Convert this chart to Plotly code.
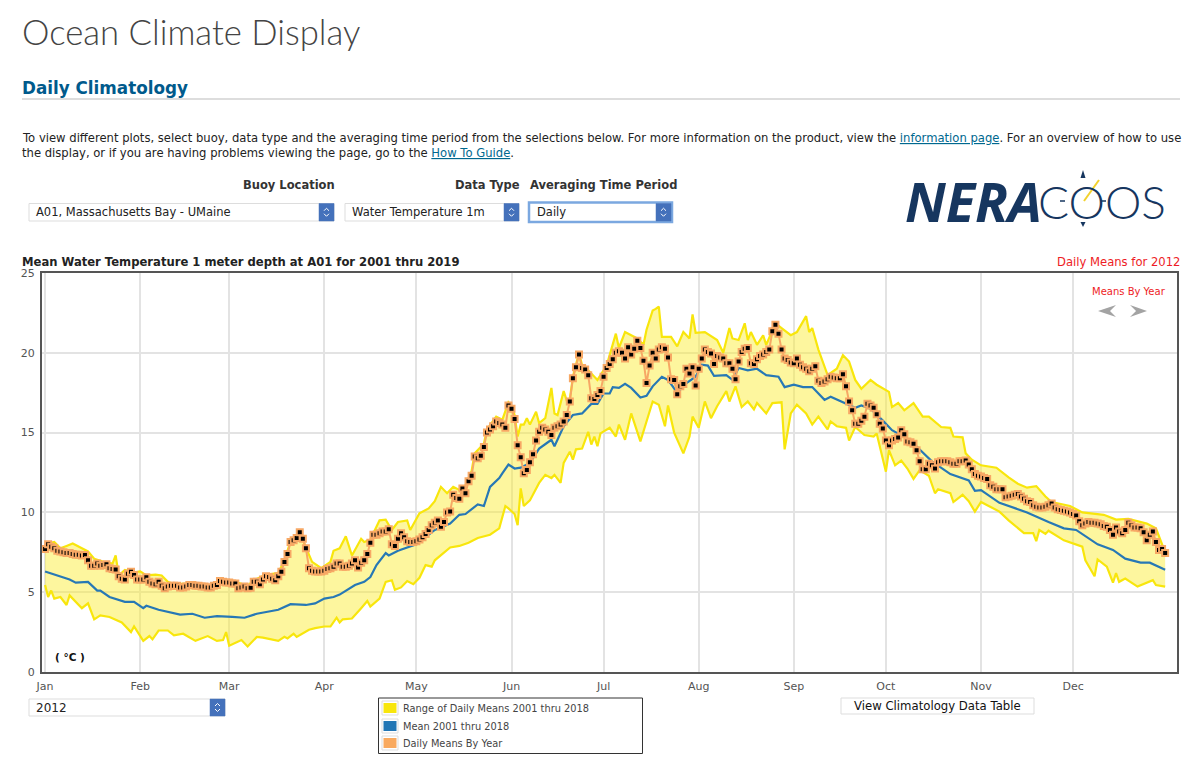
import plotly.graph_objects as go

W = 1200
H = 768

month_labels = ['Jan', 'Feb', 'Mar', 'Apr', 'May', 'Jun', 'Jul', 'Aug', 'Sep', 'Oct', 'Nov', 'Dec']
month_days = [0, 31, 60, 91, 121, 152, 182, 213, 244, 274, 305, 335]
temp_ticks = [0, 5, 10, 15, 20, 25]

# Daily means for 2012, one value per day of the year
year_2012 = [
    7.7, 8.0, 7.85, 7.75, 7.6, 7.55, 7.5, 7.45, 7.45, 7.4,
    7.35, 7.35, 7.3, 7.33, 7.0, 6.66, 6.65, 6.8, 6.65, 6.7,
    6.75, 6.5, 6.45, 6.43, 6.0, 5.85, 5.8, 6.15, 6.28, 6.07,
    5.8, 5.8, 5.8, 5.93, 5.65, 5.55, 5.5, 5.65, 5.4, 5.25,
    5.35, 5.4, 5.4, 5.4, 5.3, 5.3, 5.35, 5.45, 5.45, 5.4,
    5.4, 5.35, 5.35, 5.3, 5.3, 5.4, 5.45, 5.7, 5.65, 5.6,
    5.6, 5.55, 5.55, 5.25, 5.3, 5.35, 5.25, 5.28, 5.65, 5.65,
    5.5, 5.8, 6.0, 5.95, 5.85, 5.75, 6.0, 6.28, 6.9, 7.4,
    8.15, 8.25, 8.4, 8.75, 8.35, 7.75, 6.5, 6.35, 6.3, 6.3,
    6.3, 6.35, 6.45, 6.5, 6.6, 6.8, 6.8, 6.6, 6.6, 6.65,
    6.8, 7.0, 6.55, 6.85, 7.0, 7.4, 8.1, 8.6, 8.6, 8.7,
    8.8, 8.8, 8.95, 8.0, 7.9, 8.35, 8.7, 8.45, 8.2, 8.15,
    8.15, 8.2, 8.3, 8.45, 8.65, 8.9, 9.2, 9.35, 9.5, 9.1,
    9.4, 10.0, 10.05, 11.1, 10.9, 10.85, 11.5, 11.2, 11.95, 12.3,
    13.5, 13.4, 13.55, 14.1, 15.0, 15.2, 15.4, 15.7, 15.6, 15.5,
    15.3, 16.7, 16.5, 15.85, 14.2, 13.45, 12.45, 12.65, 13.15, 13.65,
    14.5, 15.05, 15.3, 15.2, 15.05, 14.85, 15.3, 15.4, 15.5, 15.7,
    16.1, 16.95, 18.4, 19.1, 19.9, 19.05, 18.95, 18.6, 17.15, 17.1,
    17.35, 17.6, 18.5, 19.05, 19.3, 19.6, 20.0, 20.1, 20.0, 19.65,
    20.35, 19.9, 20.25, 20.75, 20.3, 19.5, 18.1, 19.2, 20.0, 19.65,
    20.2, 20.35, 20.25, 19.7, 18.35, 18.3, 17.4, 17.9, 18.05, 19.0,
    18.7, 19.1, 17.95, 19.0, 19.65, 20.2, 20.05, 19.95, 19.3, 19.8,
    19.7, 19.65, 19.35, 19.35, 19.0, 18.35, 19.45, 20.05, 20.25, 20.3,
    19.35, 19.3, 19.6, 19.8, 19.9, 20.05, 20.2, 21.35, 21.75, 21.2,
    20.2, 19.65, 19.55, 19.4, 19.35, 19.65, 19.25, 19.1, 19.0, 18.85,
    19.0, 19.15, 18.25, 18.1, 18.2, 18.35, 18.5, 18.45, 18.4, 18.4,
    18.65, 17.9, 16.95, 16.4, 15.55, 15.55, 15.75, 16.0, 16.8, 16.7,
    16.55, 16.15, 15.55, 15.25, 14.5, 14.2, 14.5, 14.6, 14.7, 15.15,
    14.9, 14.45, 14.4, 14.3, 13.9, 13.2, 12.7, 12.7, 13.05, 12.95,
    12.75, 13.15, 13.2, 13.2, 13.2, 13.15, 13.05, 13.05, 13.2, 13.2,
    13.25, 13.0, 12.7, 12.4, 12.3, 12.25, 12.15, 12.1, 11.7, 11.6,
    11.45, 11.45, 11.45, 10.95, 11.0, 11.05, 11.1, 11.15, 11.0, 10.85,
    10.7, 10.65, 10.45, 10.35, 10.3, 10.3, 10.35, 10.45, 10.55, 10.3,
    10.2, 10.15, 10.1, 10.05, 10.0, 9.9, 9.8, 9.45, 9.2, 9.3,
    9.4, 9.35, 9.35, 9.3, 9.25, 9.15, 9.1, 8.9, 8.6, 9.05,
    8.8, 8.7, 8.9, 9.35, 9.2, 9.05, 9.05, 9.0, 8.75, 8.25,
    8.6, 8.8, 8.15, 7.65, 7.7, 7.45,
]

# Range of daily means, read at the corners of the yellow outline
upper_days = [
    0, 1, 3, 5, 7, 9, 12, 14, 16, 19, 22, 23, 24, 26, 29, 31, 33, 36, 38, 40,
    42, 48, 54, 57, 62, 66, 68, 72, 76, 78, 80, 83, 85, 87, 90, 93, 94, 96, 98, 100,
    103, 104, 106, 109, 111, 113, 115, 118, 119, 122, 125, 127, 129, 131, 133, 135, 137, 139, 140, 143,
    144, 147, 149, 151, 152, 153, 154, 155, 156, 157, 158, 160, 161, 163, 165, 166, 167, 169, 170, 171,
    172, 173, 174, 175, 176, 178, 180, 183, 186, 187, 189, 193, 195, 196, 198, 199, 200, 201, 204, 206,
    208, 210, 211, 212, 215, 219, 221, 223, 224, 226, 228, 229, 230, 232, 234, 235, 238, 240, 243, 245,
    248, 249, 250, 252, 255, 258, 260, 262, 264, 266, 269, 271, 275, 276, 278, 280, 283, 286, 288, 292,
    295, 296, 299, 300, 302, 305, 310, 314, 317, 320, 323, 326, 328, 334, 338, 345, 349, 353, 358, 359,
    362, 364, 365,
]
upper_vals = [
    7.8, 8.05, 8.15, 7.75, 7.9, 8.05, 7.75, 7.55, 7.1, 6.9, 6.8, 7.3, 6.05, 6.4, 6.25, 6.3, 6.05, 6.1, 6.05, 5.65,
    5.5, 5.55, 5.4, 5.75, 5.65, 5.4, 5.75, 6.1, 6.2, 7.0, 8.2, 8.8, 7.8, 6.9, 6.5, 6.9, 7.6, 7.75, 8.5, 7.3,
    8.35, 8.15, 8.3, 9.5, 9.55, 8.9, 9.4, 9.5, 8.9, 9.95, 10.25, 10.7, 11.6, 11.2, 11.6, 11.4, 11.7, 12.6, 13.7, 14.3,
    15.2, 16.0, 15.8, 16.9, 16.7, 16.1, 14.75, 15.5, 15.5, 15.9, 15.5, 16.3, 15.6, 15.9, 17.8, 16.2, 16.1, 17.6, 17.0, 17.1,
    18.5, 19.2, 20.0, 19.2, 19.1, 18.7, 18.3, 19.2, 21.2, 20.3, 21.3, 20.9, 20.5, 21.45, 22.65, 22.75, 22.9, 21.0, 21.0, 20.4,
    21.3, 20.9, 22.4, 21.25, 21.3, 20.8, 20.0, 21.55, 20.9, 20.8, 21.85, 20.8, 21.3, 20.5, 21.1, 20.5, 21.85, 21.55, 21.1, 21.3,
    22.3, 21.3, 21.55, 20.2, 18.6, 19.0, 19.85, 19.45, 18.3, 17.75, 18.3, 18.0, 17.55, 16.6, 16.85, 16.4, 16.85, 16.0, 16.0, 15.35,
    15.3, 14.75, 14.7, 13.7, 13.3, 12.95, 12.8, 12.2, 11.8, 11.55, 11.65, 11.0, 10.65, 10.4, 10.0, 9.85, 9.55, 9.6, 9.35, 9.3,
    9.0, 8.05, 7.5,
]
lower_days = [
    0, 1, 2, 3, 5, 7, 8, 10, 12, 14, 16, 18, 21, 25, 28, 29, 32, 34, 35, 37,
    40, 42, 45, 49, 53, 56, 58, 59, 60, 64, 66, 69, 71, 76, 78, 79, 81, 82, 85, 86,
    88, 91, 93, 95, 96, 97, 100, 101, 103, 105, 106, 109, 111, 113, 114, 116, 118, 120, 122, 124,
    126, 127, 129, 132, 135, 138, 141, 145, 148, 150, 151, 153, 154, 155, 156, 158, 161, 163, 165, 166,
    168, 169, 171, 172, 173, 175, 177, 178, 179, 180, 181, 184, 186, 187, 189, 191, 194, 198, 200, 202,
    203, 205, 208, 210, 211, 213, 215, 217, 219, 222, 223, 225, 227, 229, 231, 232, 235, 237, 240, 241,
    243, 245, 248, 250, 252, 255, 256, 258, 261, 262, 264, 267, 270, 271, 274, 275, 277, 279, 281, 283,
    285, 288, 290, 291, 295, 296, 299, 301, 303, 305, 311, 314, 319, 322, 323, 324, 326, 327, 332, 338,
    339, 342, 343, 346, 348, 349, 350, 352, 356, 361, 362, 365,
]
lower_vals = [
    5.45, 4.7, 5.1, 4.6, 4.7, 4.2, 4.8, 4.4, 4.0, 4.3, 3.3, 3.55, 3.45, 3.1, 2.5, 2.85, 1.95, 2.25, 2.05, 2.6,
    2.6, 2.3, 2.4, 1.95, 2.25, 1.95, 2.0, 2.5, 1.65, 2.0, 1.6, 2.2, 2.15, 1.95, 2.2, 2.1, 2.4, 2.2, 2.55, 2.65,
    2.75, 2.85, 2.85, 3.4, 3.1, 3.3, 3.35, 3.55, 4.0, 4.45, 4.1, 4.6, 5.65, 5.75, 5.15, 5.3, 5.7, 5.5, 5.9, 6.7,
    6.6, 7.0, 7.3, 7.8, 7.9, 8.1, 8.4, 8.6, 9.0, 10.4, 10.25, 9.9, 9.2, 11.5, 10.4, 10.75, 11.85, 12.35, 12.15, 12.35,
    11.85, 13.1, 13.8, 13.3, 13.95, 14.0, 15.05, 14.25, 14.75, 14.15, 14.95, 15.3, 14.75, 15.5, 14.55, 16.2, 14.45, 16.95, 16.75, 15.4,
    16.7, 15.0, 13.7, 14.75, 16.0, 15.3, 16.95, 15.9, 16.65, 17.6, 16.95, 17.9, 16.6, 16.95, 16.45, 16.85, 16.2, 16.85, 16.9, 13.95,
    16.2, 16.75, 16.2, 15.5, 16.0, 15.2, 15.7, 15.4, 15.3, 14.5, 15.35, 14.85, 14.75, 14.95, 12.55, 13.9, 12.95, 13.25, 12.75, 12.1,
    12.65, 12.3, 11.2, 11.45, 11.2, 10.65, 11.1, 10.7, 10.05, 10.65, 10.05, 9.5, 8.7, 8.7, 8.2, 8.9, 8.65, 8.85, 8.25, 7.85,
    7.0, 6.0, 7.05, 6.6, 5.6, 6.2, 5.65, 5.85, 5.35, 5.75, 5.45, 5.35,
]

# Mean 2001 thru 2018, read at the bends of the blue line
mean_days = [
    0, 5, 8, 10, 14, 17, 18, 21, 26, 29, 32, 33, 37, 44, 48, 52, 56, 61, 65, 69,
    76, 80, 85, 88, 91, 94, 96, 101, 104, 106, 108, 111, 112, 115, 121, 127, 132, 135, 137, 141,
    143, 145, 148, 149, 151, 153, 155, 158, 161, 165, 166, 169, 172, 175, 178, 180, 182, 184, 185, 187,
    189, 191, 194, 196, 198, 201, 203, 206, 209, 212, 214, 216, 218, 222, 224, 226, 229, 232, 235, 239,
    241, 244, 247, 250, 254, 256, 260, 264, 266, 269, 273, 276, 282, 289, 295, 301, 303, 305, 311, 320,
    327, 332, 336, 343, 348, 352, 357, 360, 365,
]
mean_vals = [
    6.3, 6.0, 5.8, 5.6, 5.65, 5.1, 5.1, 4.7, 4.4, 4.4, 4.0, 4.15, 3.9, 3.6, 3.65, 3.4, 3.5, 3.45, 3.4, 3.65,
    3.9, 4.25, 4.2, 4.3, 4.6, 4.7, 4.85, 5.45, 5.65, 5.95, 6.7, 7.45, 7.3, 7.6, 8.0, 8.9, 9.3, 9.85, 9.9, 10.5,
    10.4, 11.6, 12.15, 12.45, 13.0, 12.75, 12.8, 13.1, 14.0, 14.55, 14.15, 15.4, 16.1, 16.2, 16.8, 16.8, 17.45, 17.45, 17.85, 17.8,
    18.05, 17.8, 17.2, 17.3, 17.9, 18.5, 18.3, 17.5, 18.1, 18.5, 19.25, 19.2, 18.55, 18.6, 18.3, 19.05, 18.9, 19.0, 18.6, 18.5,
    17.85, 18.0, 17.85, 17.85, 17.05, 17.25, 16.9, 16.55, 16.7, 16.5, 15.75, 15.15, 14.5, 13.2, 12.4, 12.0, 11.35, 11.4, 10.6, 10.0,
    9.4, 9.0, 8.9, 8.0, 7.65, 7.1, 6.85, 6.85, 6.4,
]


def px(x):
    return x / W


def py(y):
    return 1 - y / H


fig = go.Figure()

fig.add_trace(go.Scatter(x=lower_days, y=lower_vals, mode='lines',
                         line=dict(color='#f8e60c', width=2.2), hoverinfo='skip'))
fig.add_trace(go.Scatter(x=upper_days, y=upper_vals, mode='lines', fill='tonexty',
                         fillcolor='rgba(250,235,40,0.45)',
                         line=dict(color='#f8e60c', width=2.2), hoverinfo='skip'))
fig.add_trace(go.Scatter(x=mean_days, y=mean_vals, mode='lines',
                         line=dict(color='#2778b5', width=2.2)))
fig.add_trace(go.Scatter(x=list(range(len(year_2012))), y=year_2012, mode='lines+markers',
                         line=dict(color='#f7a865', width=2),
                         marker=dict(symbol='square', size=6, color='#000000',
                                     line=dict(color='#f7a865', width=2))))

# Page furniture around the plot, in page pixels
shapes = []
notes = []


def text(x, y, s, size=12, color='#222222', anchor='left', family='DejaVu Sans', weight=None):
    font = dict(size=size, color=color, family=family)
    if weight:
        font['weight'] = weight
    notes.append(dict(x=px(x), y=py(y), xref='paper', yref='paper', text=s, showarrow=False,
                      xanchor=anchor, yanchor='middle', align=anchor, font=font, borderpad=0, borderwidth=0))


def rect(x0, y0, x1, y1, fill='rgba(0,0,0,0)', line='rgba(0,0,0,0)', width=1):
    shapes.append(dict(type='rect', xref='paper', yref='paper', x0=px(x0), x1=px(x1), y0=py(y0), y1=py(y1),
                       fillcolor=fill, line=dict(color=line, width=width), layer='above'))


def poly(points, fill='rgba(0,0,0,0)', line='rgba(0,0,0,0)', width=1, close=True):
    d = 'M ' + ' L '.join('%.5f %.5f' % (px(a), py(b)) for a, b in points)
    if close:
        d += ' Z'
    shapes.append(dict(type='path', xref='paper', yref='paper', path=d, fillcolor=fill,
                       line=dict(color=line, width=width), layer='above'))


def select_box(x0, x1, y0, y1, label, focused=False, size=11.5):
    if focused:
        rect(x0 - 1, y0 - 1, x1 + 1, y1 + 1, fill='#ffffff', line='#7ba8e0', width=2.5)
    else:
        rect(x0, y0, x1, y1, fill='#ffffff', line='#dddddd', width=1)
    rect(x1 - 15, y0, x1, y1, fill='#4471bb', line='#4471bb', width=0.5)
    cx = x1 - 7.5
    cy = (y0 + y1) / 2
    poly([(cx - 2.5, cy - 1.5), (cx, cy - 4), (cx + 2.5, cy - 1.5)], line='#ffffff', close=False)
    poly([(cx - 2.5, cy + 1.5), (cx, cy + 4), (cx + 2.5, cy + 1.5)], line='#ffffff', close=False)
    text(x0 + 7, cy, label, size=size, color='#222222')


# Header
text(22, 32, 'Ocean Climate Display', size=34.7, color='#444444', family='Lato', weight=300)
text(22, 88, '<b>Daily Climatology</b>', size=16.8, color='#005a8c')
rect(22, 98.5, 1180, 99.5, fill='#bbbbbb')
link = '<span style="color:#00688f;text-decoration:underline">%s</span>'
text(22, 138, 'To view different plots, select buoy, data type and the averaging time period from the selections below. '
     'For more information on the product, view the ' + link % 'information page' + '. For an overview of how to use',
     size=11.6, color='#222222')
text(22, 153, 'the display, or if you are having problems viewing the page, go to the ' + link % 'How To Guide' + '.',
     size=11.6, color='#222222')

# Selectors
text(335, 185, '<b>Buoy Location</b>', size=11.5, anchor='right', color='#333333')
text(519.5, 185, '<b>Data Type</b>', size=11.5, anchor='right', color='#333333')
text(530, 185, '<b>Averaging Time Period</b>', size=11.5, color='#333333')
select_box(29, 334, 203.5, 221, 'A01, Massachusetts Bay - UMaine')
select_box(345, 519, 203.5, 221, 'Water Temperature 1m')
select_box(530, 671, 203.5, 221, 'Daily', focused=True)
select_box(29, 225, 699, 716, '2012', size=12)

# Logo
text(905, 201, '<b><i>NERA</i></b>', size=54, color='#16365f', family='Open Sans')
text(1038, 201, 'COOS', size=46, color='#16365f', family='Lato', weight=300)
poly([(1080.5, 178), (1083, 170), (1085.5, 178)], fill='#16365f')
poly([(1080.5, 222), (1083, 227), (1085.5, 222)], fill='#16365f')
poly([(1060, 201), (1065, 201)], line='#16365f', width=1.5, close=False)
poly([(1101, 201), (1106, 201)], line='#16365f', width=1.5, close=False)
poly([(1084, 201), (1099, 180)], line='#f2d22e', width=2, close=False)

# Chart captions
text(22, 262, '<b>Mean Water Temperature 1 meter depth at A01 for 2001 thru 2019</b>', size=11.6, color='#222222')
text(1180, 262, 'Daily Means for 2012', size=11.6, color='#ee1c25', anchor='right')
text(1129, 292, 'Means By Year', size=10, color='#ee1c25', anchor='center')
poly([(1098, 311), (1116, 305), (1110, 311), (1116, 317)], fill='#a3a3a3')
poly([(1130, 305), (1147, 311), (1130, 317), (1136, 311)], fill='#a3a3a3')
text(55, 657, '<b>( °C )</b>', size=10.5, color='#111111')

# Hand built legend
legend_labels = ['Range of Daily Means 2001 thru 2018', 'Mean 2001 thru 2018', 'Daily Means By Year']
legend_colors = ['#f8e60c', '#2176b5', '#f9a95e']
legend_rows = [708, 726, 743]
rect(378.5, 698, 642.5, 753.5, fill='#ffffff', line='#333333', width=1)
for lbl, col, row in zip(legend_labels, legend_colors, legend_rows):
    rect(382, row - 7, 398, row + 7, fill='#ffffff', line='#dddddd', width=1)
    rect(383.5, row - 5, 396.5, row + 5, fill=col)
    text(403, row, lbl, size=9.8, color='#444444')

# Table button
rect(841, 698, 1034, 714, fill='#ffffff', line='#dddddd', width=1)
text(937.5, 706, 'View Climatology Data Table', size=11.7, color='#111111', anchor='center')

fig.update_layout(
    width=W, height=H,
    margin=dict(l=0, r=0, t=0, b=0, autoexpand=False),
    paper_bgcolor='#ffffff',
    plot_bgcolor='#ffffff',
    showlegend=False,
    font=dict(family='DejaVu Sans', color='#545454', size=11),
    shapes=shapes,
    annotations=notes,
    xaxis=dict(domain=[px(42), px(1176.5)], range=[-1, 368.7],
               tickmode='array', tickvals=month_days, ticktext=month_labels, ticks='', ticklabelstandoff=3,
               showgrid=True, gridcolor='#e3e3e3', gridwidth=1.5, zeroline=False,
               showline=True, linecolor='#555555', linewidth=2, mirror=True),
    yaxis=dict(domain=[py(672), py(273)], range=[0, 25],
               tickmode='array', tickvals=temp_ticks, ticks='', ticklabelstandoff=3,
               showgrid=True, gridcolor='#e3e3e3', gridwidth=1.5, zeroline=False,
               showline=True, linecolor='#555555', linewidth=2, mirror=True),
)

fig.write_html("out.html", config=dict(displayModeBar=False), post_script="document.body.style.margin='0';")
